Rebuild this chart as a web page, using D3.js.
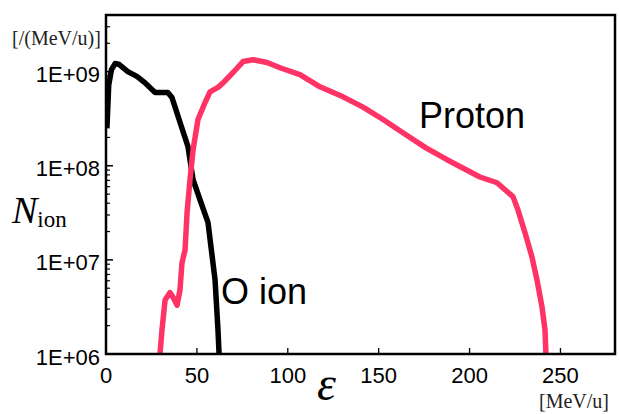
<!DOCTYPE html>
<html>
<head>
<meta charset="utf-8">
<script src="https://cdn.jsdelivr.net/npm/d3@7"></script>
<style>
  body { margin: 0; background: #fff; }
  svg { display: block; }
</style>
</head>
<body>
<div id="chart"></div>
<script>
// energy [MeV/u] and counts [/(MeV/u)]
const oIonE = [0.5, 1.5, 3, 5, 7, 12, 17, 21.5, 27, 34, 36.3, 40.7, 45.1, 47.9, 52, 56.1, 60, 61.6, 62.2];
const oIonN = [2.5e8, 7.2e8, 1.05e9, 1.22e9, 1.2e9, 1.0e9, 8.9e8, 7.6e8, 6.0e8, 6.0e8, 5.3e8, 2.9e8, 1.6e8, 7.1e7, 4.2e7, 2.5e7, 6.1e6, 1.8e6, 1e6];

const protonE = [29.7, 30.8, 32.5, 35.2, 36.9, 39.1, 40.7, 41.8, 43.5, 44.6, 46.2, 47.9, 50.6, 54.5, 57.2, 61.6, 64.4, 69.9, 75.4, 80.9, 88.6, 95.7, 106.7, 117.7, 130.4, 141.4, 152.4, 165.6, 176, 187.6, 205.7, 215.1, 223.9, 226.6, 230.5, 234.3, 237.1, 239.8, 241.5, 242];
const protonN = [1e6, 1.8e6, 3.75e6, 4.5e6, 4.0e6, 3.3e6, 4.8e6, 9.3e6, 1.28e7, 3.2e7, 7.1e7, 1.48e8, 3.1e8, 4.7e8, 6.1e8, 6.8e8, 7.6e8, 9.8e8, 1.28e9, 1.34e9, 1.25e9, 1.1e9, 9.3e8, 6.9e8, 5.4e8, 4.2e8, 3.1e8, 2.1e8, 1.55e8, 1.16e8, 7.6e7, 6.6e7, 4.7e7, 3.4e7, 1.94e7, 1.08e7, 6.1e6, 3.2e6, 1.8e6, 1e6];

const xTicks = [0, 50, 100, 150, 200, 250];
const yTicks = [1e6, 1e7, 1e8, 1e9];
const yTickLabels = ["1E+06", "1E+07", "1E+08", "1E+09"];

const width = 619, height = 414;
const margin = { left: 106, right: 4, top: 15, bottom: 60 };

const svg = d3.select("#chart").append("svg")
    .attr("width", width)
    .attr("height", height);

const x = d3.scaleLinear().domain([0, 280]).range([margin.left, width - margin.right]);
const y = d3.scaleLog().domain([1e6, 4e9]).range([height - margin.bottom, margin.top]);

const plotH = y.range()[0] - y.range()[1];

svg.append("defs").append("clipPath").attr("id", "clip")
    .append("rect")
    .attr("x", x.range()[0]).attr("y", margin.top)
    .attr("width", x.range()[1] - x.range()[0]).attr("height", plotH);

// minor y ticks
const minor = [];
for (let k = 6; k <= 9; k++) {
    for (let m = 2; m <= 9; m++) {
        const v = m * Math.pow(10, k);
        if (v <= 4e9) minor.push(v);
    }
}
svg.append("g").selectAll("line").data(minor).join("line")
    .attr("x1", x(0)).attr("x2", x(0) + 4)
    .attr("y1", d => y(d)).attr("y2", d => y(d))
    .attr("stroke", "#000").attr("stroke-width", 1.2);

// major y ticks + labels
const yg = svg.append("g");
yg.selectAll("line").data(yTicks).join("line")
    .attr("x1", x(0)).attr("x2", x(0) + 7)
    .attr("y1", d => y(d)).attr("y2", d => y(d))
    .attr("stroke", "#000").attr("stroke-width", 1.5);
yg.selectAll("text").data(yTicks).join("text")
    .attr("x", 100)
    .attr("y", d => y(d) + 3)
    .attr("text-anchor", "end")
    .attr("dominant-baseline", "central")
    .style("font-family", "'Liberation Sans', Arial, sans-serif")
    .style("font-size", "22px")
    .text((d, i) => yTickLabels[i]);

// x ticks + labels
const xg = svg.append("g");
xg.selectAll("line").data(xTicks.slice(1)).join("line")
    .attr("x1", d => x(d)).attr("x2", d => x(d))
    .attr("y1", y(1e6)).attr("y2", y(1e6) - 6)
    .attr("stroke", "#000").attr("stroke-width", 1.3);
xg.selectAll("text").data(xTicks).join("text")
    .attr("x", d => x(d))
    .attr("y", 383)
    .attr("text-anchor", "middle")
    .style("font-family", "'Liberation Sans', Arial, sans-serif")
    .style("font-size", "22px")
    .text(d => d);

// curves
const line = d3.line()
    .x(d => x(d[0]))
    .y(d => y(d[1]));

const plot = svg.append("g").attr("clip-path", "url(#clip)");

plot.append("path")
    .datum(d3.zip(oIonE, oIonN))
    .attr("d", line)
    .attr("fill", "none")
    .attr("stroke", "#000")
    .attr("stroke-width", 5.5)
    .attr("stroke-linejoin", "round");

plot.append("path")
    .datum(d3.zip(protonE, protonN))
    .attr("d", line)
    .attr("fill", "none")
    .attr("stroke", "#ff3366")
    .attr("stroke-width", 5.5)
    .attr("stroke-linejoin", "round");

// frame
svg.append("rect")
    .attr("x", x.range()[0]).attr("y", margin.top)
    .attr("width", x.range()[1] - x.range()[0]).attr("height", plotH)
    .attr("fill", "none")
    .attr("stroke", "#000")
    .attr("stroke-width", 2.5);

// series labels
const sans = "'Liberation Sans', Arial, sans-serif";
const serif = "'Liberation Serif', 'Times New Roman', serif";

svg.append("text").attr("x", 221).attr("y", 304)
    .style("font-family", sans).style("font-size", "36px")
    .text("O ion");
svg.append("text").attr("x", 419).attr("y", 128)
    .style("font-family", sans).style("font-size", "36px")
    .text("Proton");

// axis titles
svg.append("text").attr("x", 12).attr("y", 45)
    .style("font-family", serif).style("font-size", "20px").attr("fill", "#222")
    .text("[/(MeV/u)]");

const yTitle = svg.append("text").attr("x", 12).attr("y", 223)
    .style("font-family", serif);
yTitle.append("tspan").style("font-style", "italic").style("font-size", "38px").text("N");
yTitle.append("tspan").attr("dy", 4).style("font-size", "23px").text("ion");

svg.append("text").attr("x", 317).attr("y", 400)
    .style("font-family", serif).style("font-style", "italic").style("font-size", "48px")
    .text("ε");

svg.append("text").attr("x", 539).attr("y", 408)
    .style("font-family", serif).style("font-size", "20px").attr("fill", "#222")
    .text("[MeV/u]");
</script>
</body>
</html>
